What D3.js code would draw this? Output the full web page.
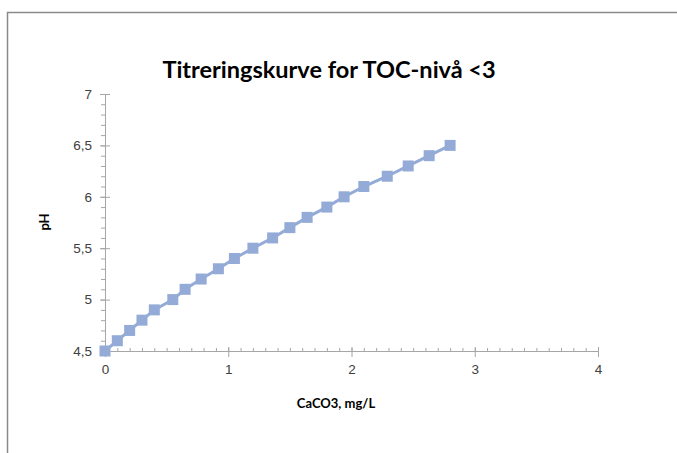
<!DOCTYPE html>
<html lang="no">
<head>
  <meta charset="UTF-8" />
  <title>Titreringskurve for TOC-nivå &lt;3</title>
  <style>
    body { margin: 0; background: #fff; }
    svg { display: block; font-family: Lato, "Open Sans", sans-serif; }
    .tick text { fill: #404040; font-size: 13.5px; }
    .axis path, .axis line { stroke: #a6a6a6; }
  </style>
</head>
<body>
  <div id="chart"></div>

  <script src="https://d3js.org/d3.v7.min.js"></script>
  <script>
    // data
    const caco3 = [0, 0.1, 0.2, 0.3, 0.4, 0.55, 0.65, 0.78, 0.92, 1.05, 1.2,
                   1.36, 1.5, 1.64, 1.8, 1.94, 2.1, 2.29, 2.46, 2.63, 2.8];
    const ph = [4.5, 4.6, 4.7, 4.8, 4.9, 5.0, 5.1, 5.2, 5.3, 5.4, 5.5,
                5.6, 5.7, 5.8, 5.9, 6.0, 6.1, 6.2, 6.3, 6.4, 6.5];
    const xTicks = [0, 1, 2, 3, 4];
    const yTicks = [4.5, 5, 5.5, 6, 6.5, 7];
    const title = 'Titreringskurve for TOC-nivå <3';
    const xTitle = 'CaCO3, mg/L';
    const yTitle = 'pH';

    const width = 677;
    const height = 453;
    const margin = { top: 94, right: 79, bottom: 102, left: 105 };
    const innerWidth = width - margin.left - margin.right;
    const innerHeight = height - margin.top - margin.bottom;
    const color = '#93abd6';
    const comma = d => String(d).replace('.', ',');

    const svg = d3.select('#chart')
      .append('svg')
      .attr('width', width)
      .attr('height', height);

    // chart border (only left and top visible in the crop)
    svg.append('path')
      .attr('d', `M7.5,${height} V12.5 H${width}`)
      .attr('fill', 'none')
      .attr('stroke', '#8a8a8a')
      .attr('stroke-width', 1.5);

    const g = svg.append('g')
      .attr('transform', `translate(${margin.left},${margin.top})`);

    const xScale = d3.scaleLinear().domain([0, 4]).range([0, innerWidth]);
    const yScale = d3.scaleLinear().domain([4.5, 7]).range([innerHeight, 0]);

    // minor ticks (no labels)
    g.append('g')
      .attr('class', 'axis')
      .attr('transform', `translate(0,${innerHeight})`)
      .call(d3.axisTop(xScale).tickValues(d3.range(0, 40).map(i => i / 10)).tickSize(3))
      .call(a => a.select('.domain').remove())
      .call(a => a.selectAll('text').remove());
    g.append('g')
      .attr('class', 'axis')
      .call(d3.axisLeft(yScale).tickValues(d3.range(45, 70).map(i => i / 10)).tickSize(4))
      .call(a => a.select('.domain').remove())
      .call(a => a.selectAll('text').remove());

    // major axes
    g.append('g')
      .attr('class', 'axis')
      .attr('transform', `translate(0,${innerHeight})`)
      .call(d3.axisBottom(xScale).tickValues(xTicks).tickSize(6).tickSizeOuter(0).tickPadding(7).tickFormat(comma))
      .call(a => a.selectAll('.tick line').attr('y1', -4));
    g.append('g')
      .attr('class', 'axis')
      .call(d3.axisLeft(yScale).tickValues(yTicks).tickSize(5).tickSizeOuter(0).tickPadding(8).tickFormat(comma))
      .call(a => a.selectAll('.tick line').attr('x1', 5));

    // line + markers
    const pts = caco3.map((x, i) => ({ x, y: ph[i] }));
    g.append('path')
      .datum(pts)
      .attr('fill', 'none')
      .attr('stroke', color)
      .attr('stroke-width', 3)
      .attr('d', d3.line().x(d => xScale(d.x)).y(d => yScale(d.y)));

    const s = 11;
    g.selectAll('rect.pt')
      .data(pts)
      .enter().append('rect')
        .attr('class', 'pt')
        .attr('x', d => xScale(d.x) - s / 2)
        .attr('y', d => yScale(d.y) - s / 2)
        .attr('width', s)
        .attr('height', s)
        .attr('fill', color);

    // texts
    svg.append('text')
      .attr('x', 329)
      .attr('y', 78)
      .attr('text-anchor', 'middle')
      .attr('font-size', 23.5)
      .attr('font-weight', 'bold')
      .attr('fill', '#000')
      .text(title);

    svg.append('text')
      .attr('x', 336)
      .attr('y', 408)
      .attr('text-anchor', 'middle')
      .attr('font-size', 13)
      .attr('font-weight', 'bold')
      .text(xTitle);

    svg.append('text')
      .attr('transform', 'translate(49,222) rotate(-90)')
      .attr('text-anchor', 'middle')
      .attr('font-size', 13)
      .attr('font-weight', 'bold')
      .text(yTitle);
  </script>
</body>
</html>
